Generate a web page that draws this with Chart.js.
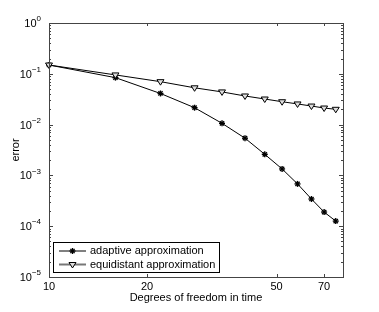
<!DOCTYPE html>
<html>
<head>
<meta charset="utf-8">
<script src="https://cdn.jsdelivr.net/npm/chart.js@4.4.1/dist/chart.umd.min.js"></script>
<style>
  html, body { margin: 0; padding: 0; background: #fff; }
</style>
</head>
<body>
<canvas id="errChart" width="379" height="312"></canvas>
<script>
// degrees of freedom in time (x) and the error of both approximations (y)
const dofs = [10, 16, 22, 28, 34, 40, 46, 52, 58, 64, 70, 76];
const adaptiveError = [0.149, 0.084, 0.041, 0.0215, 0.0106, 0.0054, 0.0026, 0.00134, 0.00068, 0.000343, 0.00019, 0.000126];
const equidistantError = [0.149, 0.095, 0.07, 0.053, 0.044, 0.0366, 0.0319, 0.0282, 0.0255, 0.0232, 0.0212, 0.020];
const xTicks = [10, 20, 50, 70];
const yExponents = [0, -1, -2, -3, -4, -5];
const seriesNames = ["adaptive approximation", "equidistant approximation"];

const FONT = "'Liberation Sans', Arial, Helvetica, sans-serif";

function toPoints(ys) {
    return dofs.map((d, i) => ({ x: d, y: ys[i] }));
}

function drawMarker(ctx, style, x, y) {
    ctx.save();
    ctx.strokeStyle = "#000";
    if (style === "star") {
        ctx.lineWidth = 1.4;
        const r = 3;
        for (let k = 0; k < 4; k++) {
            const a = k * Math.PI / 4;
            ctx.beginPath();
            ctx.moveTo(x - r * Math.cos(a), y - r * Math.sin(a));
            ctx.lineTo(x + r * Math.cos(a), y + r * Math.sin(a));
            ctx.stroke();
        }
    } else {
        ctx.lineWidth = 1;
        ctx.fillStyle = "#ddd";
        ctx.beginPath();
        ctx.moveTo(x - 3.5, y - 2);
        ctx.lineTo(x + 3.5, y - 2);
        ctx.lineTo(x, y + 3.5);
        ctx.closePath();
        ctx.fill();
        ctx.stroke();
    }
    ctx.restore();
}

const figurePlugin = {
    id: "figure",
    afterDraw(chart) {
        const ctx = chart.ctx;
        const a = chart.chartArea;
        const xs = chart.scales.x, ys = chart.scales.y;
        ctx.save();
        ctx.strokeStyle = "#444";
        ctx.lineWidth = 1;
        const seg = (x1, y1, x2, y2) => { ctx.beginPath(); ctx.moveTo(x1, y1); ctx.lineTo(x2, y2); ctx.stroke(); };

        // box
        ctx.strokeRect(Math.round(a.left) + 0.5, Math.round(a.top) + 0.5, Math.round(a.right - a.left), Math.round(a.bottom - a.top));

        // y ticks, major and minor, inward on both sides
        for (const e of yExponents) {
            for (let m = 1; m < 10; m++) {
                const v = m * Math.pow(10, e);
                if (v > 1.0001) break;
                const py = Math.round(ys.getPixelForValue(v)) + 0.5;
                const len = m === 1 ? 4 : 2;
                seg(a.left, py, a.left + len, py);
                seg(a.right, py, a.right - len, py);
            }
        }
        // x ticks
        for (const t of xTicks) {
            const px = Math.round(xs.getPixelForValue(t)) + 0.5;
            seg(px, a.bottom, px, a.bottom - 3);
            seg(px, a.top, px, a.top + 3);
        }

        // tick labels
        ctx.fillStyle = "#000";
        ctx.textBaseline = "middle";
        ctx.textAlign = "center";
        ctx.font = "11px " + FONT;
        for (const t of xTicks) {
            ctx.fillText(String(t), xs.getPixelForValue(t), a.bottom + 10);
        }
        for (const e of yExponents) {
            const py = ys.getPixelForValue(Math.pow(10, e));
            const sup = e === 0 ? "0" : "\u2212" + Math.abs(e);
            ctx.font = "8px " + FONT;
            const sw = ctx.measureText(sup).width;
            const right = a.left - 8;
            ctx.textAlign = "left";
            ctx.fillText(sup, right - sw, py - 4);
            ctx.font = "11px " + FONT;
            ctx.textAlign = "right";
            ctx.fillText("10", right - sw, py + 1);
        }

        // axis titles
        ctx.textAlign = "center";
        ctx.font = "11px " + FONT;
        ctx.fillText("Degrees of freedom in time", (a.left + a.right) / 2, a.bottom + 21);
        ctx.save();
        ctx.translate(16, (a.top + a.bottom) / 2);
        ctx.rotate(-Math.PI / 2);
        ctx.fillText("error", 0, 0);
        ctx.restore();

        // legend
        const lx = a.left + 4, ly = a.bottom - 35, lw = 166, lh = 30;
        ctx.fillStyle = "#fff";
        ctx.fillRect(lx, ly, lw, lh);
        ctx.strokeStyle = "#000";
        ctx.strokeRect(lx + 0.5, ly + 0.5, lw, lh);
        chart.data.datasets.forEach((ds, i) => {
            const ry = ly + 9 + i * 13.5;
            ctx.strokeStyle = i === 0 ? "#000" : "#777";
            ctx.lineWidth = i === 0 ? 1 : 2;
            seg(lx + 6, ry, lx + 33, ry);
            drawMarker(ctx, ds.marker, lx + 19.5, ry);
            ctx.fillStyle = "#000";
            ctx.textAlign = "left";
            ctx.font = "11px " + FONT;
            ctx.fillText(ds.label, lx + 37, ry);
        });
        ctx.restore();
    }
};

const markerPlugin = {
    id: "markers",
    afterDatasetsDraw(chart) {
        chart.data.datasets.forEach((ds, i) => {
            chart.getDatasetMeta(i).data.forEach(pt => drawMarker(chart.ctx, ds.marker, pt.x, pt.y));
        });
    }
};

new Chart(document.getElementById("errChart"), {
    type: "line",
    data: {
        datasets: [
            {
                label: seriesNames[0],
                data: toPoints(adaptiveError),
                marker: "star",
                borderColor: "#000",
                borderWidth: 1,
                pointRadius: 0,
                tension: 0,
                clip: false
            },
            {
                label: seriesNames[1],
                data: toPoints(equidistantError),
                marker: "triangle",
                borderColor: "#000",
                borderWidth: 1,
                pointRadius: 0,
                tension: 0,
                clip: false
            }
        ]
    },
    options: {
        responsive: false,
        animation: false,
        devicePixelRatio: 1,
        layout: { padding: { left: 49, right: 36, top: 23, bottom: 35 } },
        plugins: { legend: { display: false }, tooltip: { enabled: false } },
        scales: {
            x: { type: "logarithmic", min: 10, max: 80, display: false },
            y: { type: "logarithmic", min: 1e-5, max: 1, display: false }
        }
    },
    plugins: [markerPlugin, figurePlugin]
});
</script>
</body>
</html>
